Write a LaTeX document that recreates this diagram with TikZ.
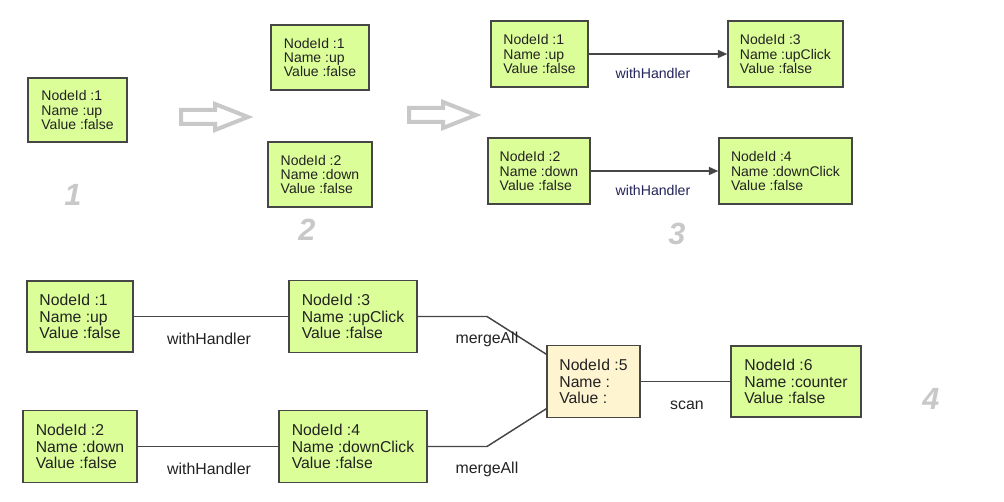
\documentclass[tikz,border=0pt]{standalone}
\usepackage{fontspec}
\setmainfont{Liberation Sans}
\usetikzlibrary{arrows.meta}
\definecolor{nodefill}{RGB}{220,254,152}
\definecolor{mergefill}{RGB}{254,244,208}
\definecolor{boxline}{RGB}{70,70,70}
\definecolor{stepgray}{RGB}{200,200,200}
\definecolor{handlerblue}{RGB}{35,35,90}
\definecolor{textgray}{RGB}{34,34,34}
\tikzset{
  box/.style={draw=boxline, line width=1.1pt, fill=nodefill, text=textgray, align=left, inner sep=0pt,
    font=\fontsize{10.5}{10.6}\selectfont},
  bigbox/.style={box, font=\fontsize{11.8}{12.4}\selectfont},
  edgelabel/.style={font=\fontsize{10.6}{12}\selectfont, text=handlerblue},
  biglabel/.style={font=\fontsize{11.9}{13}\selectfont, text=textgray},
  steplabel/.style={font=\fontsize{23}{24}\selectfont\bfseries\itshape, text=stepgray},
  hollow/.style={draw=stepgray, line width=3pt, fill=white, line join=miter},
  link/.style={draw=boxline, line width=1.1pt}
}
\begin{document}
\begin{tikzpicture}[x=0.75pt, y=-0.75pt]
  \useasboundingbox (0,0) rectangle (1004,502);
  % step 1
  \node[box, minimum width=74.25pt, minimum height=48pt] (s1up) at (77.5,110) {NodeId :1\\Name :up\\Value :false};
  \node[steplabel] (num1) at (73,195) {1};
  \draw[hollow] (181,110) -- (215,110) -- (215,104) -- (248,117) -- (215,130) -- (215,124) -- (181,124) -- cycle;
  % step 2
  \node[box, minimum width=73.5pt, minimum height=48.75pt] (s2up) at (320,57.5) {NodeId :1\\Name :up\\Value :false};
  \node[box, minimum width=78pt, minimum height=48.75pt] (s2down) at (320,174.5) {NodeId :2\\Name :down\\Value :false};
  \node[steplabel] (num2) at (307,230) {2};
  \draw[hollow] (409,108) -- (443,108) -- (443,102) -- (476,115) -- (443,128) -- (443,122) -- (409,122) -- cycle;
  % step 3
  \node[box, minimum width=72.75pt, minimum height=49.5pt] (s3up) at (539.5,54) {NodeId :1\\Name :up\\Value :false};
  \node[box, minimum width=86.25pt, minimum height=49.5pt] (s3upclick) at (785.5,54) {NodeId :3\\Name :upClick\\Value :false};
  \node[box, minimum width=76.5pt, minimum height=49.5pt] (s3down) at (539,171) {NodeId :2\\Name :down\\Value :false};
  \node[box, minimum width=99.75pt, minimum height=49.5pt] (s3downclick) at (785.5,171) {NodeId :4\\Name :downClick\\Value :false};
  \draw[link, -{Triangle[length=7pt,width=6pt]}] (s3up) -- (s3upclick);
  \draw[link, -{Triangle[length=7pt,width=6pt]}] (s3down) -- (s3downclick);
  \node[edgelabel] (h1) at (653,73) {withHandler};
  \node[edgelabel] (h2) at (653,190) {withHandler};
  \node[steplabel] (num3) at (677,234) {3};
  % step 4
  \node[bigbox, minimum width=79.5pt, minimum height=53.25pt] (up) at (80,316.5) {NodeId :1\\Name :up\\Value :false};
  \node[bigbox, minimum width=96pt, minimum height=54pt] (upclick) at (353,316.5) {NodeId :3\\Name :upClick\\Value :false};
  \node[bigbox, minimum width=85.5pt, minimum height=54pt] (down) at (80,446.5) {NodeId :2\\Name :down\\Value :false};
  \node[bigbox, minimum width=111pt, minimum height=54pt] (downclick) at (353,446.5) {NodeId :4\\Name :downClick\\Value :false};
  \node[bigbox, fill=mergefill, minimum width=69.75pt, minimum height=54pt] (merged) at (593.5,381.5) {NodeId :5\\Name :\\Value :};
  \node[bigbox, minimum width=97.5pt, minimum height=53.25pt] (counter) at (796,381.5) {NodeId :6\\Name :counter\\Value :false};
  \coordinate (bendup) at (487,316.5);
  \coordinate (benddown) at (487,446.5);
  \draw[link] (up) -- (upclick);
  \draw[link] (down) -- (downclick);
  \draw[link] (upclick) -- (bendup) -- (merged.150);
  \draw[link] (downclick) -- (benddown) -- (merged.210);
  \draw[link] (merged) -- (counter);
  \node[biglabel] (w1) at (209,339) {withHandler};
  \node[biglabel] (w2) at (209,469) {withHandler};
  \node[biglabel] (m1) at (487,339) {mergeAll};
  \node[biglabel] (m2) at (487,469) {mergeAll};
  \node[biglabel] (sc) at (687,405) {scan};
  \node[steplabel] (num4) at (931,399) {4};
\end{tikzpicture}
\end{document}
